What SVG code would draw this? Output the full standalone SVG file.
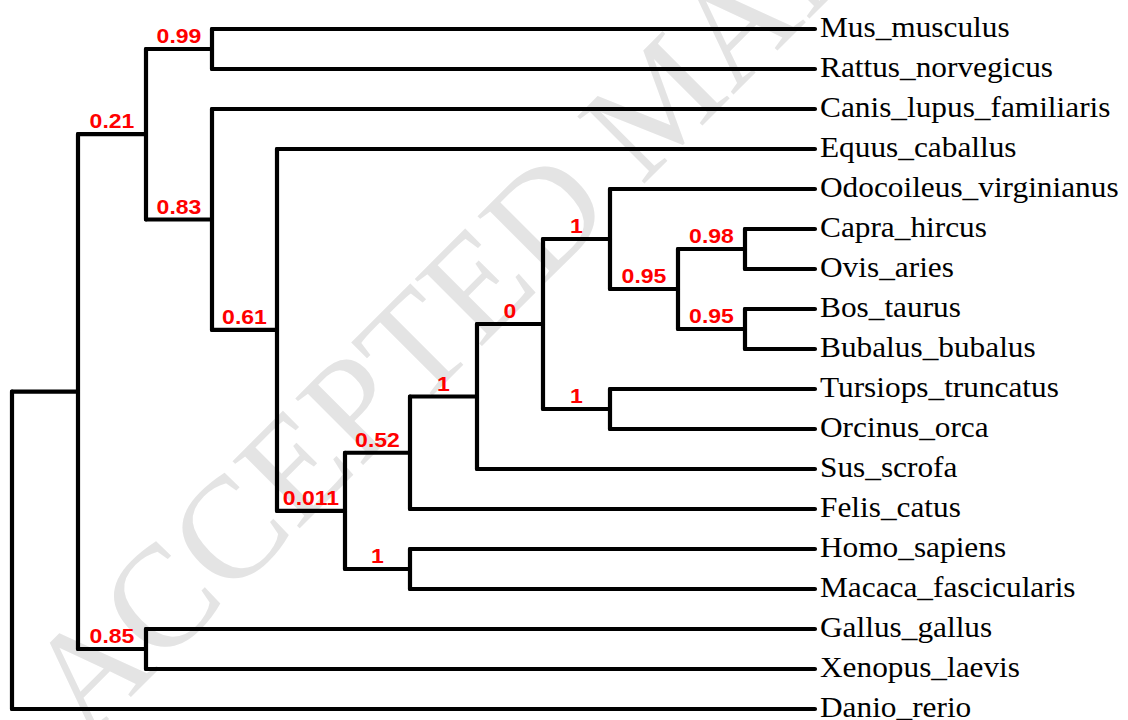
<svg xmlns="http://www.w3.org/2000/svg" width="1128" height="720" viewBox="0 0 1128 720">
<style>
.e{stroke:#000;stroke-width:4.2;fill:none;stroke-linecap:round;stroke-linejoin:round}
.leaf{font-family:"Liberation Serif","Times New Roman",serif;font-size:29px;fill:#000}
.bs{font-family:"Liberation Sans",Arial,sans-serif;font-size:20px;font-weight:bold;fill:#ff0000;text-anchor:middle}
.wm{font-family:"Liberation Serif","Times New Roman",serif;font-size:145px;fill:#e4e4e4}
</style>
<rect width="1128" height="720" fill="#fff"/>
<text class="wm" transform="translate(86,742) rotate(-45)">ACCEPTED MANUSCRIPT</text>
<g id="connectors">
<path class="e" d="M12,391.6V709M78,134.2V649M146,49V219.5M212,29V69M212,109V329.9M277,149V510.9M345,452.75V569M410,396.5V509M477,324V469M543,239V409M610,189V289M678,249V329M745,229V269M745,309V349M610,389V429M410,549V589M146,629V669"/>
<path class="e" d="M12,391.6H78M12,709H815M78,134.2H146M78,649H146M146,49H212M146,219.5H212M212,29H815M212,69H815M212,109H815M212,329.9H277M277,149H815M277,510.9H345M345,452.75H410M345,569H410M410,396.5H477M410,509H815M477,324H543M477,469H815M543,239H610M543,409H610M610,189H815M610,289H678M678,249H745M678,329H745M745,229H815M745,269H815M745,309H815M745,349H815M610,389H815M610,429H815M410,549H815M410,589H815M146,629H815M146,669H815"/>
</g>
<g id="n021"><text class="bs" transform="translate(112,128.4) scale(1.15,1)">0.21</text></g>
<g id="n085"><text class="bs" transform="translate(112,643) scale(1.15,1)">0.85</text></g>
<g id="n099"><text class="bs" transform="translate(179,43.3) scale(1.15,1)">0.99</text></g>
<g id="n083"><text class="bs" transform="translate(179,213.5) scale(1.15,1)">0.83</text></g>
<g id="n061"><text class="bs" transform="translate(244.5,324) scale(1.15,1)">0.61</text></g>
<g id="n0011"><text class="bs" transform="translate(311,505) scale(1.15,1)">0.011</text></g>
<g id="n052"><text class="bs" transform="translate(377.5,446.8) scale(1.15,1)">0.52</text></g>
<g id="n1prim"><text class="bs" transform="translate(377.5,563) scale(1.15,1)">1</text></g>
<g id="n1a"><text class="bs" transform="translate(443.5,390.5) scale(1.15,1)">1</text></g>
<g id="n0"><text class="bs" transform="translate(510,318) scale(1.15,1)">0</text></g>
<g id="n1rum"><text class="bs" transform="translate(576.5,233) scale(1.15,1)">1</text></g>
<g id="n1cet"><text class="bs" transform="translate(576.5,403) scale(1.15,1)">1</text></g>
<g id="n095a"><text class="bs" transform="translate(644,283) scale(1.15,1)">0.95</text></g>
<g id="n098"><text class="bs" transform="translate(711.5,243) scale(1.15,1)">0.98</text></g>
<g id="n095b"><text class="bs" transform="translate(711.5,323) scale(1.15,1)">0.95</text></g>
<g id="Mus_musculus"><text class="leaf" transform="translate(820,37) scale(1.08,1)">Mus_musculus</text></g>
<g id="Rattus_norvegicus"><text class="leaf" transform="translate(820,77) scale(1.08,1)">Rattus_norvegicus</text></g>
<g id="Canis_lupus_familiaris"><text class="leaf" transform="translate(820,117) scale(1.08,1)">Canis_lupus_familiaris</text></g>
<g id="Equus_caballus"><text class="leaf" transform="translate(820,157) scale(1.08,1)">Equus_caballus</text></g>
<g id="Odocoileus_virginianus"><text class="leaf" transform="translate(820,197) scale(1.08,1)">Odocoileus_virginianus</text></g>
<g id="Capra_hircus"><text class="leaf" transform="translate(820,237) scale(1.08,1)">Capra_hircus</text></g>
<g id="Ovis_aries"><text class="leaf" transform="translate(820,277) scale(1.08,1)">Ovis_aries</text></g>
<g id="Bos_taurus"><text class="leaf" transform="translate(820,317) scale(1.08,1)">Bos_taurus</text></g>
<g id="Bubalus_bubalus"><text class="leaf" transform="translate(820,357) scale(1.08,1)">Bubalus_bubalus</text></g>
<g id="Tursiops_truncatus"><text class="leaf" transform="translate(820,397) scale(1.08,1)">Tursiops_truncatus</text></g>
<g id="Orcinus_orca"><text class="leaf" transform="translate(820,437) scale(1.08,1)">Orcinus_orca</text></g>
<g id="Sus_scrofa"><text class="leaf" transform="translate(820,477) scale(1.08,1)">Sus_scrofa</text></g>
<g id="Felis_catus"><text class="leaf" transform="translate(820,517) scale(1.08,1)">Felis_catus</text></g>
<g id="Homo_sapiens"><text class="leaf" transform="translate(820,557) scale(1.08,1)">Homo_sapiens</text></g>
<g id="Macaca_fascicularis"><text class="leaf" transform="translate(820,597) scale(1.08,1)">Macaca_fascicularis</text></g>
<g id="Gallus_gallus"><text class="leaf" transform="translate(820,637) scale(1.08,1)">Gallus_gallus</text></g>
<g id="Xenopus_laevis"><text class="leaf" transform="translate(820,677) scale(1.08,1)">Xenopus_laevis</text></g>
<g id="Danio_rerio"><text class="leaf" transform="translate(820,717) scale(1.08,1)">Danio_rerio</text></g>
</svg>
